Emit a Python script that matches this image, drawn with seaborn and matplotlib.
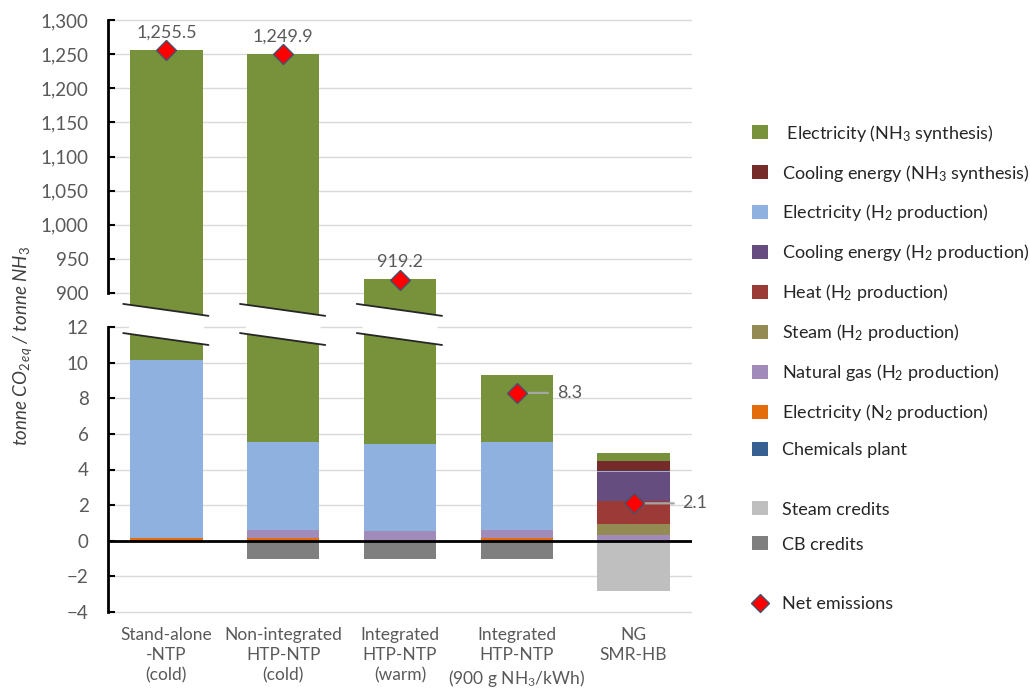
import numpy as np
import matplotlib
matplotlib.use('Agg')
import matplotlib.pyplot as plt
from matplotlib.patches import Patch, Polygon
from matplotlib.lines import Line2D
import seaborn as sns

## Data
categories = ['Stand-alone\n-NTP\n(cold)',
              'Non-integrated\nHTP-NTP\n(cold)',
              'Integrated\nHTP-NTP\n(warm)',
              'Integrated\nHTP-NTP\n(900 g NH$_3$/kWh)',
              'NG\nSMR-HB']

# contributions, tonne CO2eq / tonne NH3 (stacked bottom -> top)
chemicals_plant = [0.0, 0.0, 0.0, 0.0, 0.0]
elec_n2         = [0.15, 0.15, 0.0, 0.15, 0.0]
natural_gas     = [0.0, 0.45, 0.55, 0.45, 0.35]
steam_h2        = [0.0, 0.0, 0.0, 0.0, 0.6]
heat_h2         = [0.0, 0.0, 0.0, 0.0, 1.3]
cooling_h2      = [0.0, 0.0, 0.0, 0.0, 1.6]
elec_h2         = [10.0, 4.95, 4.9, 4.95, 0.05]
cooling_nh3     = [0.0, 0.0, 0.0, 0.0, 0.55]
elec_nh3        = [1245.35, 1245.35, 914.75, 3.75, 0.45]
# credits
steam_credits   = [0.0, 0.0, 0.0, 0.0, -2.8]
cb_credits      = [0.0, -1.0, -1.0, -1.0, 0.0]
# net emissions
net_emissions   = [1255.5, 1249.9, 919.2, 8.3, 2.1]

## Styles
layers = [('Chemicals plant',                       chemicals_plant, '#376092'),
          ('Electricity (N$_2$ production)',        elec_n2,         '#E46C0A'),
          ('Natural gas (H$_2$ production)',        natural_gas,     '#A08BBB'),
          ('Steam (H$_2$ production)',              steam_h2,        '#948A54'),
          ('Heat (H$_2$ production)',               heat_h2,         '#9B3A36'),
          ('Cooling energy (H$_2$ production)',     cooling_h2,      '#654D80'),
          ('Electricity (H$_2$ production)',        elec_h2,         '#8EB1E0'),
          ('Cooling energy (NH$_3$ synthesis)',     cooling_nh3,     '#742B29'),
          (' Electricity (NH$_3$ synthesis)',       elec_nh3,        '#77923A')]
credits = [('Steam credits', steam_credits, '#BFBFBF'),
           ('CB credits',    cb_credits,    '#7F7F7F')]
label_dx  = [0, 0, 0, 40, 49]     # pixel offset of the net labels in the lower panel
txt_col   = '#595959'
bar_w     = 0.62

sns.set_theme(style='white')
plt.rcParams['font.family'] = ['Lato', 'DejaVu Sans']
plt.rcParams['mathtext.fontset'] = 'custom'
plt.rcParams['mathtext.rm'] = 'Lato'
plt.rcParams['mathtext.it'] = 'Lato:italic'
plt.rcParams['mathtext.bf'] = 'Lato:bold'

fig = plt.figure(figsize=(10.3, 6.9), dpi=100)
ax_top = fig.add_axes([108/1030, 1-320/690, 584/1030, 303/690])
ax_bot = fig.add_axes([108/1030, 1-616/690, 584/1030, 293/690])

n = len(categories)
pos = np.arange(n)

def draw_stack(ax):
    bottom = np.zeros(n)
    for name, vals, col in layers:
        sns.barplot(x=categories, y=vals, bottom=bottom.copy(), color=col, saturation=1,
                    width=bar_w, linewidth=0, errorbar=None, ax=ax, zorder=2)
        bottom += np.array(vals)
    for name, vals, col in credits:
        sns.barplot(x=categories, y=vals, color=col, saturation=1,
                    width=bar_w, linewidth=0, errorbar=None, ax=ax, zorder=2)
    ax.plot(pos, net_emissions, ls='', marker='D', ms=10, mfc='red', mec='#44546A',
            mew=1, zorder=6, clip_on=False)

for ax in (ax_top, ax_bot):
    draw_stack(ax)
    ax.set_xlim(-0.5, n - 0.5)
    ax.set_axisbelow(True)
    ax.yaxis.grid(True, color='#D9D9D9', lw=1)
    ax.xaxis.grid(False)
    for s in ['top', 'right', 'bottom']:
        ax.spines[s].set_visible(False)
    ax.spines['left'].set_linewidth(2)
    ax.spines['left'].set_color('black')
    ax.tick_params(axis='y', direction='in', length=5, width=1.5, color='black',
                   labelsize=13.5, labelcolor=txt_col, pad=14, left=True)
    ax.set_ylabel('')

## Upper panel (large values)
ax_top.set_ylim(1300 - 300/0.6825, 1300 + 3/0.6825)
ax_top.set_yticks(np.arange(900, 1301, 50))
ax_top.set_yticklabels(['{:,.0f}'.format(v) for v in np.arange(900, 1301, 50)])
ax_top.spines['left'].set_bounds(900, 1300)
ax_top.tick_params(axis='x', bottom=False, labelbottom=False)

## Lower panel
ax_bot.set_ylim(-4 - 4/17.81, 12 + 4/17.81)
ax_bot.set_yticks(np.arange(-4, 13, 2))
ax_bot.spines['left'].set_bounds(-4, 12)
ax_bot.axhline(0, color='black', lw=2, zorder=4)
ax_bot.tick_params(axis='x', bottom=False, labelsize=12.5, labelcolor=txt_col, pad=2)
for lab in ax_bot.get_xticklabels():
    lab.set_linespacing(1.3)

## Axis break marks for bars that leave the lower panel
totals = np.sum([l[1] for l in layers], axis=0)
lo_top = ax_bot.get_ylim()[1]
for i in range(n):
    if totals[i] <= lo_top:
        continue
    xa, xb = i - bar_w/2 - 0.06, i + bar_w/2 + 0.05
    xl, xr = i - bar_w/2 - 0.01, i + bar_w/2 + 0.01
    for ax, ya, yb, edge in [(ax_top, 884.0, 866.5, ax_top.get_ylim()[0]),
                             (ax_bot, 11.66, 10.99, lo_top)]:
        f = lambda x: ya + (yb - ya) * (x - xa) / (xb - xa)
        ax.add_patch(Polygon([(xl, f(xl)), (xr, f(xr)), (xr, edge), (xl, edge)],
                             closed=True, fc='white', ec='none', zorder=3, clip_on=False))
        ax.plot([xa, xb], [ya, yb], color='#262626', lw=1.3, zorder=4, clip_on=False)

## Net emission labels
for i, v in enumerate(net_emissions):
    txt = '{:,.1f}'.format(v)
    if v > lo_top:
        ax_top.annotate(txt, xy=(i, v), xytext=(0, 18), textcoords='offset pixels',
                        ha='center', va='center', fontsize=13, color=txt_col, zorder=7)
    else:
        ax_bot.annotate(txt, xy=(i, v), xytext=(label_dx[i], 0), textcoords='offset pixels',
                        ha='left', va='center', fontsize=13, color=txt_col, zorder=5,
                        arrowprops=dict(arrowstyle='-', color='#A6A6A6', lw=1.6,
                                        shrinkA=4, shrinkB=0))

## Y label
fig.text(0.022, 1 - 346/690, 'tonne CO$_{2\\,eq}$ / tonne NH$_3$', rotation=90,
         style='italic', ha='center', va='center', fontsize=13.5, color='#404040')

## Legends
leg_kw = dict(frameon=False, fontsize=13, handlelength=0.9, handleheight=0.8,
              handletextpad=0.75, borderpad=0, borderaxespad=0, loc='center left',
              labelcolor='#262626')
h1 = [Patch(fc=c, ec='none', label=l) for l, v, c in layers[::-1]]
fig.legend(handles=h1, bbox_to_anchor=(752/1030, 1 - 290.5/690), labelspacing=1.05, **leg_kw)
h2 = [Patch(fc=c, ec='none', label=l) for l, v, c in credits]
fig.legend(handles=h2, bbox_to_anchor=(752/1030, 1 - 527/690), labelspacing=1.05, **leg_kw)
h3 = [Line2D([], [], ls='', marker='D', ms=9, mfc='red', mec='#44546A', mew=1,
             label='Net emissions')]
fig.legend(handles=h3, bbox_to_anchor=(752/1030, 1 - 604/690), **leg_kw)

fig.savefig('out.png', dpi=100)
